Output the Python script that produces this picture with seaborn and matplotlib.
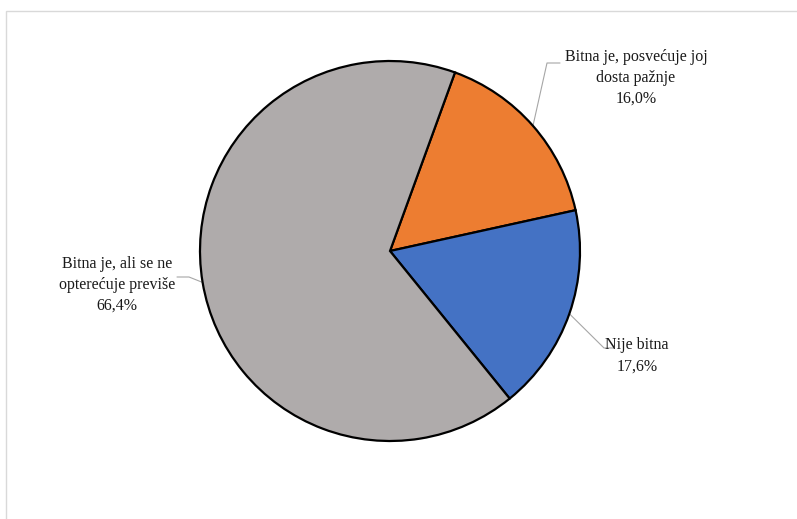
import numpy as np
import matplotlib
matplotlib.use("Agg")
import matplotlib.pyplot as plt
import seaborn as sns
from matplotlib.patches import Rectangle

categories = ["Bitna je, posvećuje joj\ndosta pažnje", "Nije bitna", "Bitna je, ali se ne\nopterećuje previše"]
values = [16.0, 17.6, 66.4]
colors = ["#ED7D31", "#4472C4", "#AFABAB"]

sns.set_theme(style="white")
plt.rcParams['font.family'] = ['Liberation Serif', 'DejaVu Serif']

W, H = 797, 519
fig = plt.figure(figsize=(W / 100, H / 100), dpi=100)
ax = fig.add_axes([0, 0, 1, 1])

cx, cy, r = 390, H - 251, 190
wedges, _ = ax.pie(values, colors=colors, startangle=70, counterclock=False,
                   center=(cx, cy), radius=r,
                   wedgeprops=dict(edgecolor="black", linewidth=1.6))
ax.set_xlim(0, W)
ax.set_ylim(0, H)
ax.set_aspect("auto")
ax.axis("off")

# frame
ax.add_patch(Rectangle((6.5, -5), W, H - 10.5 + 5, fill=False, edgecolor="#D9D9D9", linewidth=1.0))

# label anchor positions (text center) and leader elbows
label_pos = [(636, H - 78), (637, H - 356), (117, H - 285)]
elbows = [[(547, H - 63), (560, H - 63)], [(604, H - 348), (614, H - 348)], [(189, H - 277), (177, H - 277)]]

for w, cat, v, pos, elb in zip(wedges, categories, values, label_pos, elbows):
    mid = np.deg2rad((w.theta1 + w.theta2) / 2)
    px, py = cx + r * np.cos(mid), cy + r * np.sin(mid)
    xs = [px] + [e[0] for e in elb]
    ys = [py] + [e[1] for e in elb]
    ax.plot(xs, ys, color="#A6A6A6", linewidth=0.8, zorder=0)
    txt = f"{cat}\n{v:.1f}%".replace(".", ",")
    ax.text(pos[0], pos[1], txt, ha="center", va="center", fontsize=11.5,
            color="#1a1a1a", linespacing=1.42)

fig.savefig("out.png", dpi=100)
